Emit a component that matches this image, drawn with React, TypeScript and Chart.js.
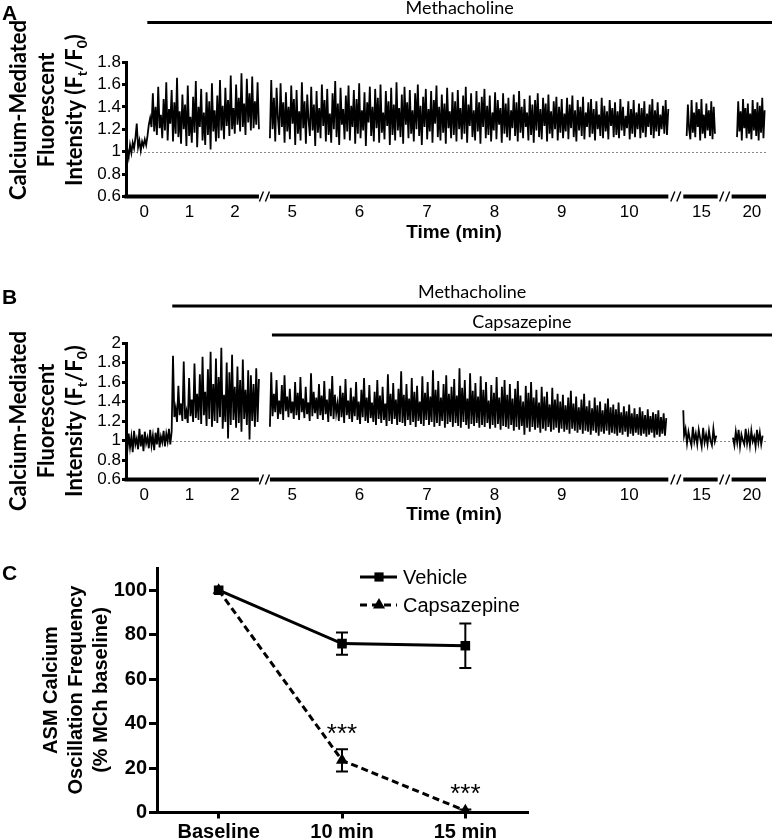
import React, { useEffect, useRef } from 'react';
import { Chart, registerables } from 'chart.js';

Chart.register(...registerables);

const SANS = '"Liberation Sans", Arial, sans-serif';
const HUM = 'Lato, "Open Sans", sans-serif';

// ---------------- Panels A & B : broken time axis (minutes) ----------------
const X_TICK_TIMES = [0, 1, 2, 5, 6, 7, 8, 9, 10, 15, 20];
const X_TICK_LABELS = ['0', '1', '2', '5', '6', '7', '8', '9', '10', '15', '20'];
const AXIS_SEG_FROM = [-0.4, 4.67, 14.73, 19.7];
const AXIS_SEG_TO = [2.53, 10.58, 15.24, 20.21];
const AXIS_SEG_SCALE = [0.673, 1, 1, 1];
const AXIS_GAPS = [0.163, 0.222, 0.207];

// ---------------- Panel A trace (Ft/F0) ----------------
const A_SEG_START = [-0.4, 4.67, 14.78, 19.78];
const A_SEG_END = [2.53, 10.58, 15.2, 20.19];
const A_SEG1 = [
  0.86, 1.02, 0.95, 1.06, 0.99, 1.08, 1.03, 1.12, 1.25, 1.04, 1.1, 1.01, 1.09, 1.05, 1.11, 1.06,
  1.14, 1.24, 1.3, 1.22,
  1.52, 1.18, 1.4, 1.15, 1.58, 1.21, 1.33, 1.12, 1.47, 1.19, 1.62, 1.1, 1.38, 1.25, 1.55, 1.09, 1.44, 1.16, 1.66, 1.13,
  1.36, 1.07, 1.51, 1.2, 1.42, 1.05, 1.59, 1.14, 1.31, 1.08, 1.49, 1.17, 1.63, 1.04, 1.4, 1.22, 1.56, 1.1, 1.35, 1.06,
  1.53, 1.15, 1.45, 1.02, 1.61, 1.18, 1.37, 1.09, 1.5, 1.12, 1.64, 1.19, 1.41, 1.11, 1.57, 1.23, 1.46, 1.14, 1.68, 1.2,
  1.39, 1.16, 1.6, 1.24, 1.48, 1.18, 1.7, 1.22, 1.43, 1.15, 1.65, 1.26, 1.52, 1.19, 1.67, 1.21, 1.45, 1.24, 1.62, 1.2];
const A_SEG2 = [
  1.12, 1.64, 1.2, 1.48, 1.09, 1.57, 1.3, 1.15, 1.61, 1.22, 1.44, 1.08, 1.53, 1.18, 1.4, 1.11, 1.59, 1.25, 1.47, 1.06,
  1.55, 1.16, 1.36, 1.1, 1.62, 1.21, 1.45, 1.07, 1.51, 1.28, 1.14, 1.58, 1.19, 1.42, 1.05, 1.54, 1.17, 1.39, 1.12, 1.6,
  1.23, 1.46, 1.09, 1.56, 1.15, 1.34, 1.08, 1.52, 1.2, 1.63, 1.13, 1.43, 1.06, 1.57, 1.24, 1.38, 1.11, 1.5, 1.18, 1.59,
  1.1, 1.41, 1.22, 1.55, 1.07, 1.47, 1.16, 1.61, 1.12, 1.37, 1.19, 1.53, 1.05, 1.44, 1.26, 1.58, 1.14, 1.4, 1.09, 1.56,
  1.21, 1.48, 1.08, 1.6, 1.17, 1.35, 1.11, 1.54, 1.23, 1.45, 1.06, 1.57, 1.15, 1.42, 1.1, 1.62, 1.19, 1.39, 1.13, 1.51,
  1.07, 1.58, 1.24, 1.44, 1.12, 1.55, 1.16, 1.37, 1.09, 1.52, 1.2, 1.6, 1.14, 1.41, 1.06, 1.49, 1.22, 1.56, 1.11, 1.38,
  1.18, 1.54, 1.08, 1.46, 1.25, 1.59, 1.13, 1.4, 1.1, 1.51, 1.17, 1.43, 1.07, 1.57, 1.21, 1.36, 1.12, 1.53, 1.15, 1.45,
  1.09, 1.55, 1.2, 1.39, 1.11, 1.5, 1.16, 1.58, 1.08, 1.42, 1.23, 1.52, 1.13, 1.37, 1.1, 1.54, 1.18, 1.44, 1.07, 1.49,
  1.22, 1.56, 1.12, 1.41, 1.15, 1.5, 1.09, 1.35, 1.19, 1.53, 1.11, 1.46, 1.24, 1.39, 1.08, 1.52, 1.16, 1.43, 1.13, 1.48,
  1.1, 1.37, 1.21, 1.51, 1.14, 1.44, 1.09, 1.54, 1.17, 1.4, 1.12, 1.47, 1.22, 1.35, 1.1, 1.5, 1.15, 1.42, 1.08, 1.46,
  1.19, 1.52, 1.13, 1.38, 1.11, 1.48, 1.23, 1.43, 1.09, 1.51, 1.16, 1.36, 1.12, 1.45, 1.2, 1.49, 1.1, 1.4, 1.17, 1.47,
  1.12, 1.34, 1.18, 1.48, 1.11, 1.42, 1.21, 1.5, 1.13, 1.37, 1.09, 1.46, 1.19, 1.4, 1.14, 1.49, 1.11, 1.35, 1.22, 1.44,
  1.13, 1.47, 1.16, 1.38, 1.1, 1.45, 1.2, 1.33, 1.14, 1.48, 1.12, 1.41, 1.18, 1.36, 1.11, 1.46, 1.23, 1.39, 1.13, 1.44,
  1.15, 1.36, 1.12, 1.47, 1.19, 1.4, 1.14, 1.32, 1.21, 1.45, 1.11, 1.38, 1.16, 1.46, 1.13, 1.35, 1.2, 1.43, 1.12, 1.39,
  1.17, 1.45, 1.13, 1.34, 1.22, 1.42, 1.15, 1.47, 1.12, 1.37, 1.18, 1.44, 1.14, 1.33, 1.2, 1.41, 1.16, 1.46, 1.15, 1.38];
const A_SEG3 = [1.14, 1.42, 1.2, 1.11, 1.46, 1.17, 1.35, 1.13, 1.44, 1.22, 1.38, 1.1, 1.47, 1.16, 1.33, 1.12, 1.43, 1.19,
  1.37, 1.14, 1.45, 1.11, 1.4, 1.16];
const A_SEG4 = [1.13, 1.45, 1.18, 1.36, 1.1, 1.47, 1.21, 1.39, 1.12, 1.43, 1.16, 1.34, 1.11, 1.46, 1.19, 1.38, 1.14, 1.44,
  1.1, 1.41, 1.17, 1.48, 1.12, 1.37];
const A_TREATMENTS = ['Methacholine'];
const A_TREATMENT_START = [0.07];

// ---------------- Panel B trace (Ft/F0) ----------------
const B_SEG_START = [-0.4, 4.67, 14.72, 19.72];
const B_SEG_END = [2.53, 10.55, 15.22, 20.16];
const B_SEG1 = [
  0.98, 0.9, 1.07, 0.93, 1.04, 0.88, 1.1, 0.96, 1.02, 0.91, 1.12, 0.94, 1.06, 0.89, 1.09, 0.97, 1.03, 0.92, 1.11, 0.95,
  1.05, 0.9, 1.08, 0.96, 1.13, 0.93, 1.04, 0.98, 1.1, 0.94, 1.07, 0.99, 1.12, 0.96, 1.09,
  1.87, 1.24, 1.33, 1.19, 1.56, 1.26, 1.38, 1.2, 1.81, 1.22, 1.3, 1.18, 1.64, 1.25, 1.42, 1.19, 1.79, 1.23, 1.48, 1.21,
  1.68, 1.17, 1.86, 1.26, 1.5, 1.15, 1.73, 1.22, 1.91, 1.14, 1.58, 1.2, 1.84, 1.18, 1.65, 1.24, 1.95, 1.12, 1.47, 1.19,
  1.8, 1.02, 1.7, 1.16, 1.88, 1.21, 1.55, 1.13, 1.76, 1.18, 1.62, 1.09, 1.83, 1.22, 1.52, 1.16, 1.72, 1.01, 1.67, 1.2,
  1.58, 1.14, 1.74, 1.19, 1.63];
const B_SEG2 = [
  1.14, 1.7, 1.25, 1.48, 1.29, 1.62, 1.22, 1.41, 1.27, 1.57, 1.21, 1.67, 1.3, 1.45, 1.24, 1.53, 1.28, 1.4, 1.22, 1.6,
  1.26, 1.49, 1.21, 1.65, 1.29, 1.43, 1.23, 1.55, 1.27, 1.39, 1.2, 1.69, 1.25, 1.5, 1.28, 1.44, 1.22, 1.58, 1.26, 1.46,
  1.21, 1.61, 1.27, 1.42, 1.19, 1.53, 1.25, 1.66, 1.22, 1.47, 1.28, 1.38, 1.2, 1.56, 1.24, 1.49, 1.18, 1.63, 1.26, 1.41,
  1.22, 1.54, 1.19, 1.45, 1.25, 1.6, 1.21, 1.4, 1.17, 1.52, 1.24, 1.64, 1.2, 1.44, 1.18, 1.57, 1.23, 1.39, 1.19, 1.5,
  1.16, 1.62, 1.22, 1.46, 1.18, 1.55, 1.21, 1.38, 1.15, 1.68, 1.2, 1.48, 1.17, 1.59, 1.22, 1.42, 1.16, 1.53, 1.19, 1.71,
  1.18, 1.47, 1.15, 1.58, 1.21, 1.43, 1.16, 1.64, 1.19, 1.5, 1.14, 1.56, 1.2, 1.4, 1.17, 1.66, 1.15, 1.49, 1.21, 1.6,
  1.16, 1.45, 1.19, 1.72, 1.14, 1.52, 1.18, 1.61, 1.15, 1.44, 1.2, 1.58, 1.13, 1.67, 1.17, 1.48, 1.19, 1.55, 1.14, 1.63,
  1.18, 1.46, 1.15, 1.74, 1.13, 1.54, 1.19, 1.62, 1.16, 1.43, 1.12, 1.69, 1.17, 1.51, 1.15, 1.59, 1.18, 1.45, 1.13, 1.66,
  1.16, 1.52, 1.14, 1.6, 1.18, 1.41, 1.12, 1.57, 1.16, 1.49, 1.13, 1.65, 1.17, 1.44, 1.11, 1.55, 1.15, 1.62, 1.14, 1.47,
  1.12, 1.58, 1.16, 1.43, 1.1, 1.53, 1.14, 1.61, 1.11, 1.46, 1.15, 1.4, 1.06, 1.56, 1.13, 1.49, 1.09, 1.6, 1.14, 1.44,
  1.11, 1.52, 1.13, 1.39, 1.08, 1.55, 1.12, 1.45, 1.1, 1.5, 1.14, 1.37, 1.09, 1.54, 1.11, 1.42, 1.13, 1.48, 1.08, 1.4,
  1.12, 1.47, 1.09, 1.36, 1.11, 1.44, 1.07, 1.51, 1.12, 1.38, 1.1, 1.45, 1.08, 1.34, 1.11, 1.42, 1.07, 1.48, 1.1, 1.35,
  1.09, 1.41, 1.06, 1.33, 1.1, 1.44, 1.08, 1.36, 1.05, 1.4, 1.09, 1.31, 1.07, 1.38, 1.1, 1.43, 1.06, 1.34, 1.08, 1.37,
  1.07, 1.32, 1.05, 1.39, 1.08, 1.29, 1.06, 1.35, 1.09, 1.3, 1.04, 1.37, 1.07, 1.28, 1.05, 1.33, 1.08, 1.27, 1.06, 1.34,
  1.05, 1.3, 1.07, 1.26, 1.04, 1.32, 1.06, 1.25, 1.08, 1.29, 1.03, 1.27, 1.06, 1.31, 1.04, 1.24, 1.07, 1.28, 1.05, 1.23];
const B_SEG3 = [1.31, 1.05, 1.12, 0.97, 1.09, 1.01, 0.95, 1.14, 0.99, 1.07, 0.96, 1.11, 1.02, 0.94, 1.13, 0.98, 1.06,
  0.96, 1.1, 1.0, 0.95, 1.12, 0.99, 1.05];
const B_SEG4 = [1.03, 0.95, 1.09, 0.98, 1.11, 0.94, 1.06, 1.0, 0.96, 1.12, 0.97, 1.07, 0.95, 1.1, 0.99, 1.04, 0.94, 1.11,
  0.98, 1.08, 0.96, 1.05];
const B_TREATMENTS = ['Methacholine', 'Capsazepine'];
const B_TREATMENT_START = [0.62, 4.7];

// ---------------- Panel C ----------------
const C_CATEGORIES = ['Baseline', '10 min', '15 min'];
const VEHICLE_MEAN = [100, 76, 75];
const VEHICLE_SEM = [0, 5, 10];
const CAPS_MEAN = [100, 23.5, 0.8];
const CAPS_SEM = [0, 5, 0.6];
const CAPS_SIG = ['', '***', '***'];
const C_Y_TICKS = [0, 20, 40, 60, 80, 100];

const Y_TITLE_AB = [
  [{ t: 'Calcium-Mediated' }],
  [{ t: 'Fluorescent' }],
  [{ t: 'Intensity (F' }, { t: 't', sub: true }, { t: '/F' }, { t: '0', sub: true }, { t: ')' }],
];
const Y_TITLE_C = [[{ t: 'ASM Calcium' }], [{ t: 'Oscillation Frequency' }], [{ t: '(% MCh baseline)' }]];

// ---------------- helpers ----------------
function toAxis(t: number): number {
  let off = 0;
  const n = AXIS_SEG_FROM.length;
  for (let i = 0; i < n; i++) {
    const f = AXIS_SEG_FROM[i];
    const e = AXIS_SEG_TO[i];
    const s = AXIS_SEG_SCALE[i];
    if (t <= e || i === n - 1) return off + (Math.max(t, f) - f) * s;
    off += (e - f) * s + AXIS_GAPS[i];
  }
  return off;
}
const AXIS_MAX = toAxis(AXIS_SEG_TO[AXIS_SEG_TO.length - 1]);

function segPoints(start: number, end: number, values: number[]) {
  const n = values.length;
  return values.map((v, i) => ({ x: toAxis(start + ((end - start) * i) / (n - 1)), y: v }));
}

function drawRotatedTitle(ctx: CanvasRenderingContext2D, lines: any[], xs: number[], cy: number, font: string, subFont: string, subShift: number) {
  lines.forEach((runs: any[], li: number) => {
    ctx.save();
    ctx.translate(xs[li], cy);
    ctx.rotate(-Math.PI / 2);
    ctx.textBaseline = 'middle';
    ctx.textAlign = 'left';
    ctx.fillStyle = '#000';
    let w = 0;
    runs.forEach((r) => { ctx.font = r.sub ? subFont : font; w += ctx.measureText(r.t).width; });
    let px = -w / 2;
    runs.forEach((r) => {
      ctx.font = r.sub ? subFont : font;
      ctx.fillText(r.t, px, r.sub ? subShift : 0);
      px += ctx.measureText(r.t).width;
    });
    ctx.restore();
  });
}

interface TracePanel {
  letter: string;
  letterY: number;
  segStart: number[];
  segEnd: number[];
  segValues: number[][];
  yMax: number;
  padTop: number;
  xAxisHeight: number;
  treatments: string[];
  treatmentStart: number[];
  barLineY: number[];
  barTextY: number[];
  titleCY: number;
  timeTitleY: number;
}

function makeTracePlugin(p: TracePanel) {
  return {
    id: 'trace' + p.letter,
    beforeDatasetsDraw(chart: any) {
      const { ctx, chartArea: ca, scales } = chart;
      const y = Math.round(scales.y.getPixelForValue(1)) + 0.5;
      ctx.save();
      ctx.strokeStyle = '#888';
      ctx.lineWidth = 1;
      ctx.setLineDash([2, 2]);
      ctx.beginPath();
      ctx.moveTo(ca.left + 2, y);
      ctx.lineTo(ca.right, y);
      ctx.stroke();
      ctx.restore();
    },
    afterDraw(chart: any) {
      const { ctx, chartArea: ca, scales: { x } } = chart;
      ctx.save();
      const yb = ca.bottom;
      ctx.strokeStyle = '#000';
      for (let i = 0; i < AXIS_SEG_FROM.length; i++) {
        const x1 = i === 0 ? ca.left - 1.5 : x.getPixelForValue(toAxis(AXIS_SEG_FROM[i]));
        const x2 = x.getPixelForValue(toAxis(AXIS_SEG_TO[i]));
        ctx.lineWidth = 4;
        ctx.beginPath();
        ctx.moveTo(x1, yb);
        ctx.lineTo(x2, yb);
        ctx.stroke();
        if (i < AXIS_GAPS.length) {
          const nx = x.getPixelForValue(toAxis(AXIS_SEG_FROM[i + 1]));
          const xc = (x2 + nx) / 2;
          ctx.lineWidth = 1.4;
          [-3, 3].forEach((dx) => {
            ctx.beginPath();
            ctx.moveTo(xc + dx - 2, yb + 5);
            ctx.lineTo(xc + dx + 2, yb - 5);
            ctx.stroke();
          });
        }
      }
      // treatment bars
      p.treatments.forEach((name, i) => {
        const x1 = x.getPixelForValue(toAxis(p.treatmentStart[i]));
        const x2 = chart.width - 1;
        ctx.lineWidth = 3;
        ctx.beginPath();
        ctx.moveTo(x1, p.barLineY[i]);
        ctx.lineTo(x2, p.barLineY[i]);
        ctx.stroke();
        ctx.fillStyle = '#000';
        ctx.font = '18px ' + HUM;
        ctx.textAlign = 'center';
        ctx.textBaseline = 'middle';
        ctx.fillText(name, (x1 + x2) / 2, p.barTextY[i]);
      });
      // panel letter
      ctx.font = 'bold 21px ' + SANS;
      ctx.textAlign = 'left';
      ctx.textBaseline = 'alphabetic';
      ctx.fillText(p.letter, 2, p.letterY);
      // x title
      ctx.font = 'bold 19px ' + SANS;
      ctx.textAlign = 'center';
      ctx.textBaseline = 'middle';
      ctx.fillText('Time (min)', (ca.left + ca.right) / 2 + 8, p.timeTitleY);
      ctx.restore();
      drawRotatedTitle(ctx, Y_TITLE_AB, [19, 47, 75], p.titleCY, 'bold 22px ' + HUM, 'bold 14px ' + HUM, 7);
    },
  };
}

function makeTraceConfig(p: TracePanel): any {
  const datasets = p.segValues.map((vals, i) => ({
    data: segPoints(p.segStart[i], p.segEnd[i], vals),
    borderColor: '#000',
    borderWidth: 1.8,
    pointRadius: 0,
    tension: 0,
    fill: false,
  }));
  return {
    type: 'line',
    data: { datasets },
    options: {
      animation: false,
      responsive: false,
      events: [],
      layout: { padding: { left: 0, right: 7, top: p.padTop, bottom: 0 } },
      plugins: { legend: { display: false }, tooltip: { enabled: false } },
      scales: {
        x: {
          type: 'linear',
          min: 0,
          max: AXIS_MAX,
          afterBuildTicks: (s: any) => { s.ticks = X_TICK_TIMES.map((t) => ({ value: toAxis(t) })); },
          afterFit: (s: any) => { s.height = p.xAxisHeight; },
          grid: { display: false, drawTicks: false },
          border: { display: false },
          ticks: {
            autoSkip: false, maxRotation: 0, padding: 6, color: '#000',
            font: { family: SANS, size: 17 },
            callback: (_v: any, i: number) => X_TICK_LABELS[i],
          },
        },
        y: {
          type: 'linear',
          min: 0.6,
          max: p.yMax,
          ticks: {
            stepSize: 0.2, autoSkip: false, padding: 1, color: '#000', font: { family: SANS, size: 17 },
            callback: (v: number) => String(Math.round(v * 10) / 10),
          },
          grid: { drawOnChartArea: false, drawTicks: true, tickLength: 4, lineWidth: 3, color: '#000' },
          border: { display: true, width: 3, color: '#000' },
          afterFit: (s: any) => { s.width = 126; },
        },
      },
    },
    plugins: [makeTracePlugin(p)],
  };
}

const C_TOP = 550;

const cPlugin = {
  id: 'panelC',
  afterDatasetsDraw(chart: any) {
    const { ctx, scales: { x, y } } = chart;
    ctx.save();
    ctx.strokeStyle = '#000';
    ctx.fillStyle = '#000';
    ctx.lineWidth = 2;
    const series = [[VEHICLE_MEAN, VEHICLE_SEM], [CAPS_MEAN, CAPS_SEM]];
    series.forEach(([m, e]) => {
      m.forEach((v, i) => {
        if (!e[i]) return;
        const px = x.getPixelForValue(i);
        const y1 = y.getPixelForValue(v + e[i]);
        const y2 = y.getPixelForValue(Math.max(0, v - e[i]));
        ctx.beginPath();
        ctx.moveTo(px, y1); ctx.lineTo(px, y2);
        ctx.moveTo(px - 6, y1); ctx.lineTo(px + 6, y1);
        ctx.moveTo(px - 6, y2); ctx.lineTo(px + 6, y2);
        ctx.stroke();
      });
    });
    // significance stars
    ctx.font = '26px ' + SANS;
    ctx.textAlign = 'center';
    ctx.textBaseline = 'alphabetic';
    CAPS_SIG.forEach((s, i) => {
      if (!s) return;
      const px = x.getPixelForValue(i);
      const py = y.getPixelForValue(CAPS_MEAN[i] + CAPS_SEM[i]);
      ctx.fillText(s, px, py - 7);
    });
    // legend
    const items = [
      { label: 'Vehicle', dash: [] as number[], style: 'rect', r: 6.5, y: 577 - C_TOP },
      { label: 'Capsazepine', dash: [7, 5], style: 'triangle', r: 7, y: 605 - C_TOP },
    ];
    items.forEach((it) => {
      ctx.lineWidth = 3;
      ctx.setLineDash(it.dash);
      ctx.beginPath();
      ctx.moveTo(360, it.y); ctx.lineTo(397, it.y);
      ctx.stroke();
      ctx.setLineDash([]);
      ctx.beginPath();
      if (it.style === 'rect') {
        const s = it.r * Math.SQRT1_2;
        ctx.rect(379 - s, it.y - s, 2 * s, 2 * s);
      } else {
        const r = it.r;
        ctx.moveTo(379, it.y - r);
        ctx.lineTo(379 + r * 0.866, it.y + r * 0.5);
        ctx.lineTo(379 - r * 0.866, it.y + r * 0.5);
        ctx.closePath();
      }
      ctx.fill();
      ctx.font = '20px ' + SANS;
      ctx.textAlign = 'left';
      ctx.textBaseline = 'middle';
      ctx.fillText(it.label, 403, it.y + 1);
    });
    // letter
    ctx.font = 'bold 21px ' + SANS;
    ctx.textAlign = 'left';
    ctx.textBaseline = 'alphabetic';
    ctx.fillText('C', 2, 580 - C_TOP);
    ctx.restore();
    drawRotatedTitle(ctx, Y_TITLE_C, [51, 76, 101], 690 - C_TOP, 'bold 20px ' + SANS, 'bold 13px ' + SANS, 5);
  },
};

function makeCConfig(): any {
  return {
    type: 'line',
    data: {
      labels: C_CATEGORIES,
      datasets: [
        {
          label: 'Vehicle', data: VEHICLE_MEAN, borderColor: '#000', backgroundColor: '#000', borderWidth: 3,
          pointStyle: 'rect', pointRadius: 6.8, pointBorderWidth: 0, tension: 0,
        },
        {
          label: 'Capsazepine', data: CAPS_MEAN, borderColor: '#000', backgroundColor: '#000', borderWidth: 3,
          borderDash: [7, 4], pointStyle: 'triangle', pointRadius: 7, pointBorderWidth: 0, tension: 0,
        },
      ],
    },
    options: {
      animation: false,
      responsive: false,
      events: [],
      layout: { padding: { left: 0, right: 18, top: 18, bottom: 0 } },
      plugins: { legend: { display: false }, tooltip: { enabled: false } },
      scales: {
        x: {
          type: 'category',
          offset: true,
          grid: { display: true, drawOnChartArea: false, offset: false, drawTicks: true, tickLength: 6, lineWidth: 3, color: '#000' },
          border: { display: true, width: 3, color: '#000' },
          ticks: { color: '#000', padding: 2, font: { family: SANS, size: 20, weight: 'bold' } },
          afterFit: (s: any) => { s.height = 26.5; },
        },
        y: {
          min: 0,
          max: 110,
          afterBuildTicks: (s: any) => { s.ticks = C_Y_TICKS.map((v) => ({ value: v })); },
          grid: { drawOnChartArea: false, drawTicks: true, tickLength: 8, lineWidth: 3, color: '#000' },
          border: { display: true, width: 3, color: '#000' },
          ticks: { color: '#000', padding: 2, font: { family: SANS, size: 20, weight: 'bold' } },
          afterFit: (s: any) => { s.width = 157; },
        },
      },
    },
    plugins: [cPlugin],
  };
}

const PANEL_A: TracePanel = {
  letter: 'A', letterY: 20,
  segStart: A_SEG_START, segEnd: A_SEG_END, segValues: [A_SEG1, A_SEG2, A_SEG3, A_SEG4],
  yMax: 1.8, padTop: 62, xAxisHeight: 63.5,
  treatments: A_TREATMENTS, treatmentStart: A_TREATMENT_START,
  barLineY: [22.5], barTextY: [8],
  titleCY: 110, timeTitleY: 233,
};

const B_TOP = 260;
const PANEL_B: TracePanel = {
  letter: 'B', letterY: 304 - B_TOP,
  segStart: B_SEG_START, segEnd: B_SEG_END, segValues: [B_SEG1, B_SEG2, B_SEG3, B_SEG4],
  yMax: 2, padTop: 343 - B_TOP, xAxisHeight: 550 - B_TOP - (479.5 - B_TOP),
  treatments: B_TREATMENTS, treatmentStart: B_TREATMENT_START,
  barLineY: [306 - B_TOP, 335 - B_TOP], barTextY: [292 - B_TOP, 322 - B_TOP],
  titleCY: 421 - B_TOP, timeTitleY: 515 - B_TOP,
};

function useChart(ref: React.RefObject<HTMLCanvasElement>, make: () => any) {
  useEffect(() => {
    if (!ref.current) return;
    const chart = new Chart(ref.current, make());
    return () => chart.destroy();
  }, []);
}

export default function App() {
  const aRef = useRef<HTMLCanvasElement>(null);
  const bRef = useRef<HTMLCanvasElement>(null);
  const cRef = useRef<HTMLCanvasElement>(null);
  useChart(aRef, () => makeTraceConfig(PANEL_A));
  useChart(bRef, () => makeTraceConfig(PANEL_B));
  useChart(cRef, makeCConfig);
  return (
    <div style={{ position: 'absolute', left: 0, top: 0, width: 773, height: 839, background: '#fff' }}>
      <canvas ref={aRef} width={773} height={260} style={{ position: 'absolute', left: 0, top: 0 }} />
      <canvas ref={bRef} width={773} height={290} style={{ position: 'absolute', left: 0, top: B_TOP }} />
      <canvas ref={cRef} width={545} height={289} style={{ position: 'absolute', left: 0, top: C_TOP }} />
    </div>
  );
}
